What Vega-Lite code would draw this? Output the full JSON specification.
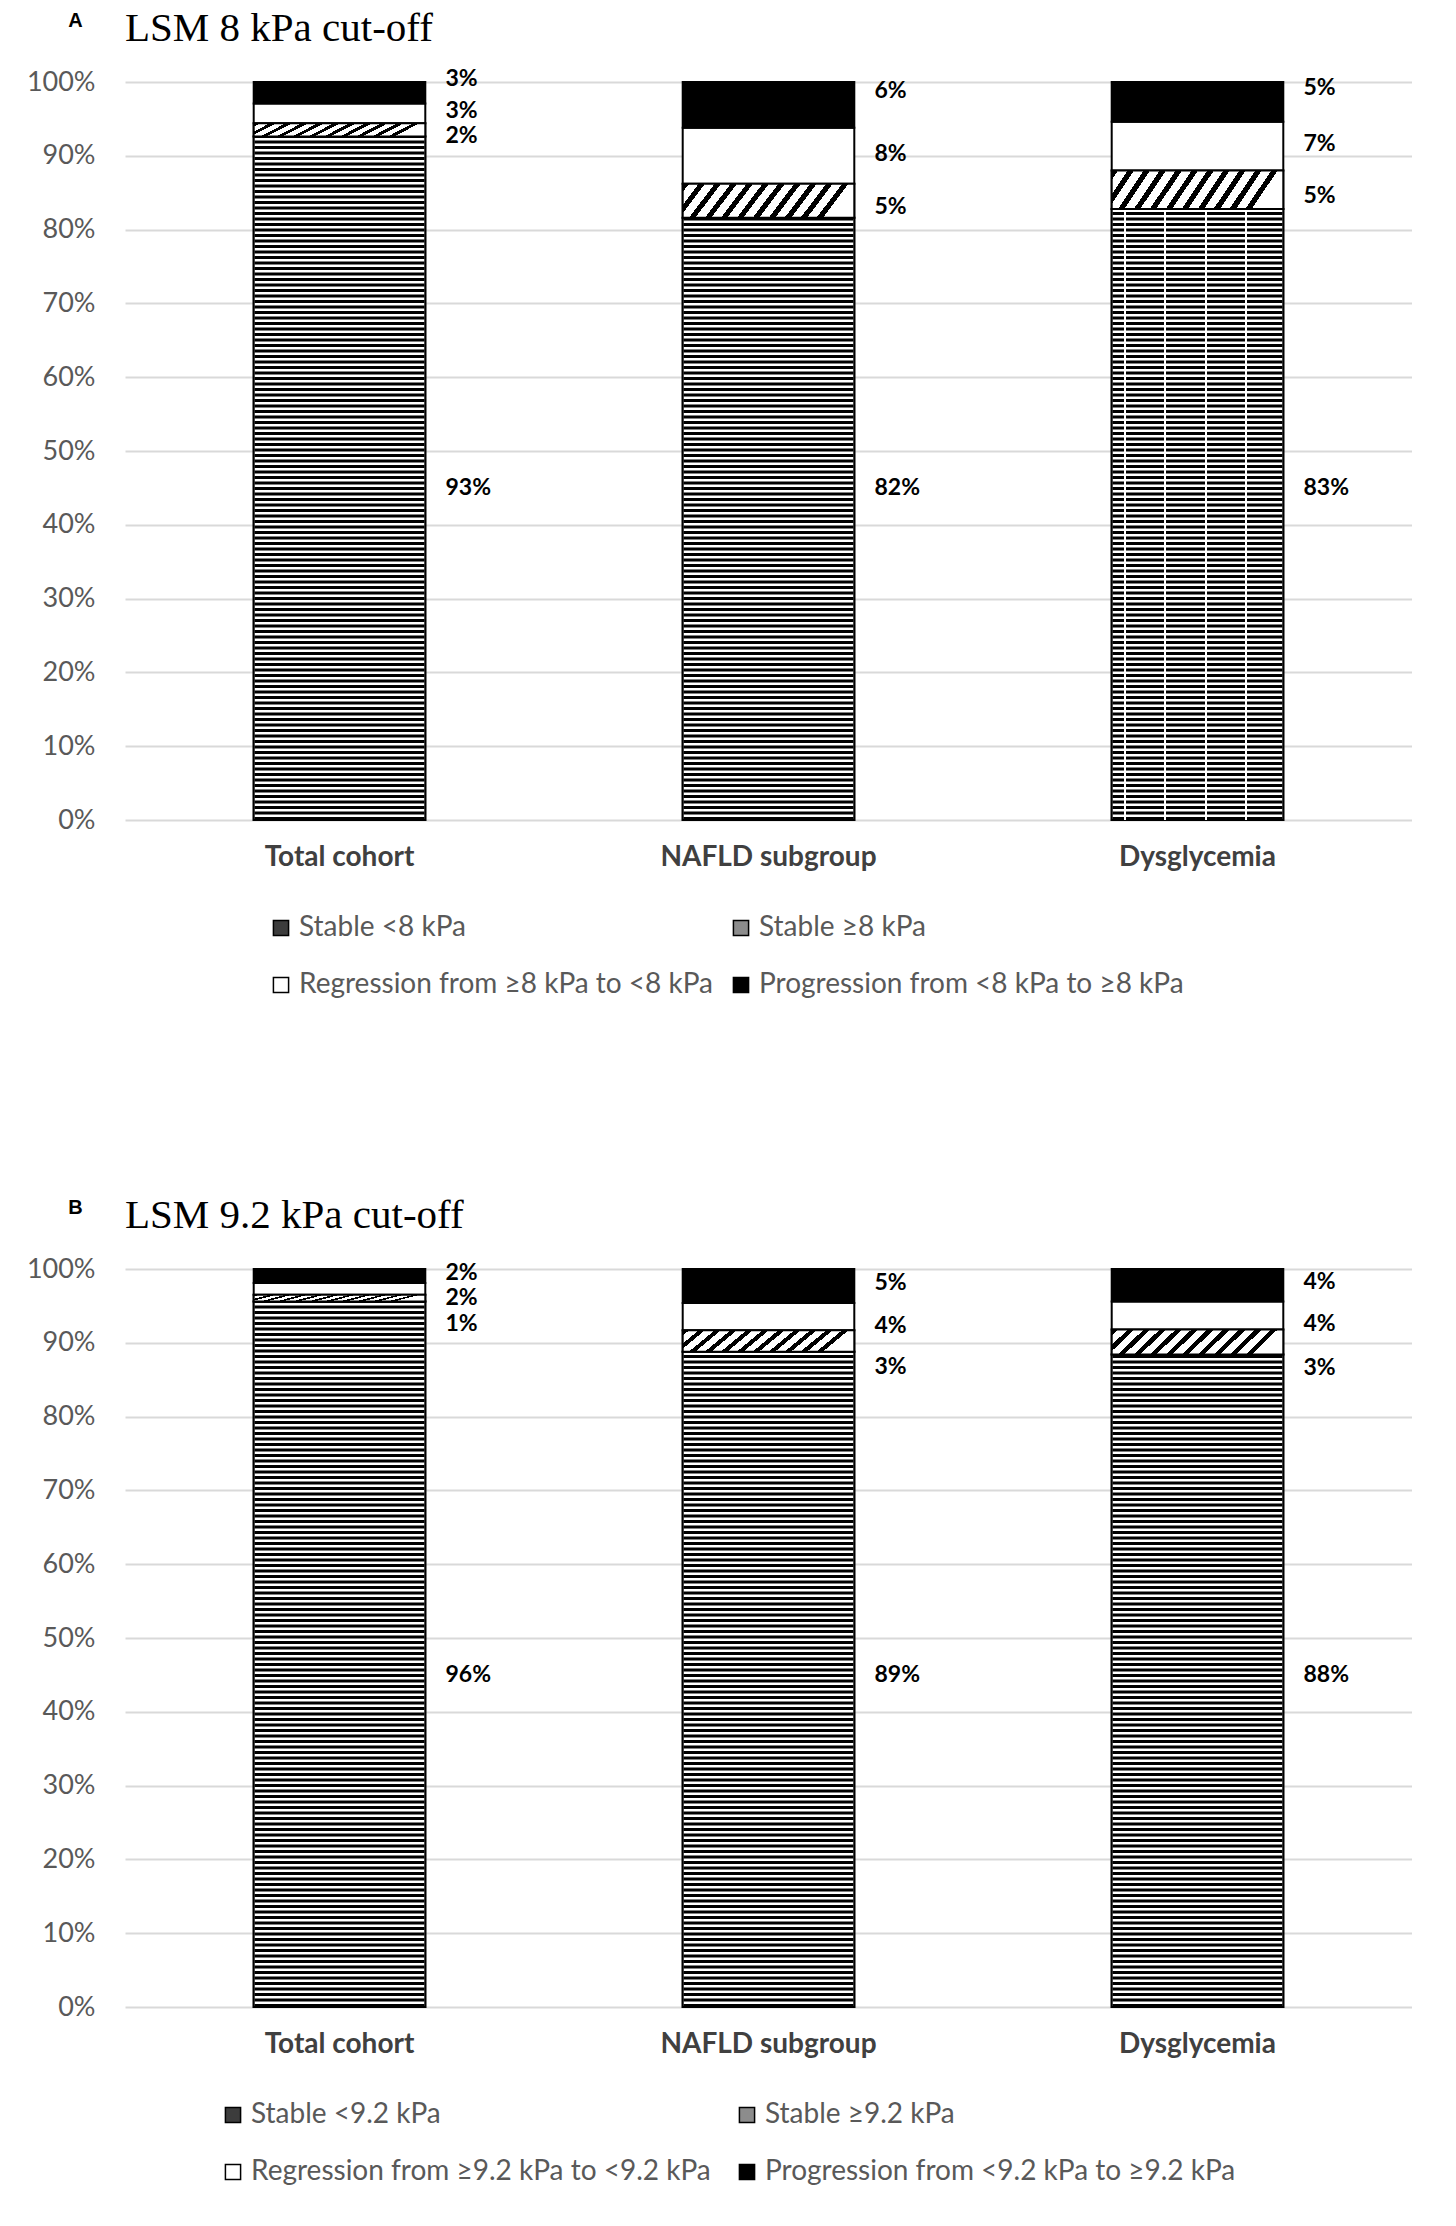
{
  "$schema": "https://vega.github.io/schema/vega-lite/v6.json",
  "padding": {"left": 26, "top": 8, "right": 0, "bottom": 0},
  "background": "white",
  "datasets": {
    "A": [
      {"group": "Total cohort", "series": "Stable <8 kPa", "order": 1, "value": 0.926},
      {"group": "Total cohort", "series": "Stable ≥8 kPa", "order": 2, "value": 0.018},
      {"group": "Total cohort", "series": "Regression from ≥8 kPa to <8 kPa", "order": 3, "value": 0.027},
      {"group": "Total cohort", "series": "Progression from <8 kPa to ≥8 kPa", "order": 4, "value": 0.029},
      {"group": "NAFLD subgroup", "series": "Stable <8 kPa", "order": 1, "value": 0.816},
      {"group": "NAFLD subgroup", "series": "Stable ≥8 kPa", "order": 2, "value": 0.046},
      {"group": "NAFLD subgroup", "series": "Regression from ≥8 kPa to <8 kPa", "order": 3, "value": 0.076},
      {"group": "NAFLD subgroup", "series": "Progression from <8 kPa to ≥8 kPa", "order": 4, "value": 0.062},
      {"group": "Dysglycemia", "series": "Stable <8 kPa", "order": 1, "value": 0.828},
      {"group": "Dysglycemia", "series": "Stable ≥8 kPa", "order": 2, "value": 0.052},
      {"group": "Dysglycemia", "series": "Regression from ≥8 kPa to <8 kPa", "order": 3, "value": 0.066},
      {"group": "Dysglycemia", "series": "Progression from <8 kPa to ≥8 kPa", "order": 4, "value": 0.054}
    ],
    "B": [
      {"group": "Total cohort", "series": "Stable <9.2 kPa", "order": 1, "value": 0.956},
      {"group": "Total cohort", "series": "Stable ≥9.2 kPa", "order": 2, "value": 0.009},
      {"group": "Total cohort", "series": "Regression from ≥9.2 kPa to <9.2 kPa", "order": 3, "value": 0.016},
      {"group": "Total cohort", "series": "Progression from <9.2 kPa to ≥9.2 kPa", "order": 4, "value": 0.019},
      {"group": "NAFLD subgroup", "series": "Stable <9.2 kPa", "order": 1, "value": 0.888},
      {"group": "NAFLD subgroup", "series": "Stable ≥9.2 kPa", "order": 2, "value": 0.029},
      {"group": "NAFLD subgroup", "series": "Regression from ≥9.2 kPa to <9.2 kPa", "order": 3, "value": 0.037},
      {"group": "NAFLD subgroup", "series": "Progression from <9.2 kPa to ≥9.2 kPa", "order": 4, "value": 0.046},
      {"group": "Dysglycemia", "series": "Stable <9.2 kPa", "order": 1, "value": 0.884},
      {"group": "Dysglycemia", "series": "Stable ≥9.2 kPa", "order": 2, "value": 0.034},
      {"group": "Dysglycemia", "series": "Regression from ≥9.2 kPa to <9.2 kPa", "order": 3, "value": 0.038},
      {"group": "Dysglycemia", "series": "Progression from <9.2 kPa to ≥9.2 kPa", "order": 4, "value": 0.044}
    ]
  },
  "vconcat": [
    {
      "width": 1287,
      "height": 738,
      "title": {"text": "LSM 8 kPa cut-off", "font": "Liberation Serif", "fontSize": 41, "fontWeight": "normal", "color": "black", "anchor": "start", "frame": "group", "offset": -40},
      "data": {"name": "A"},
      "transform": [
        {"stack": "value", "groupby": ["group"], "sort": [{"field": "order", "order": "ascending"}], "as": ["v0", "v1"]},
        {"calculate": "(datum.v0 + datum.v1) / 2", "as": "mid"}
      ],
      "encoding": {
        "x": {"field": "group", "type": "nominal", "sort": ["Total cohort", "NAFLD subgroup", "Dysglycemia"], "scale": {"paddingInner": 0.6, "paddingOuter": 0.3}, "axis": {"title": null, "labelAngle": 0, "domain": false, "ticks": false, "grid": false, "labelFont": "Lato", "labelFontSize": 28, "labelFontWeight": "bold", "labelColor": "#404040", "labelPadding": 23, "labelLimit": 0}}
      },
      "layer": [
        {
          "mark": {"type": "bar", "stroke": "black", "strokeWidth": 2},
          "encoding": {
            "y": {"field": "v0", "type": "quantitative", "scale": {"domain": [0, 1]}, "axis": {"values": [0, 0.1, 0.2, 0.3, 0.4, 0.5, 0.6, 0.7, 0.8, 0.9, 1], "format": ".0%", "domain": false, "ticks": false, "grid": true, "gridColor": "#d9d9d9", "gridWidth": 2, "labelFont": "Lato", "labelFontSize": 27, "labelColor": "#595959", "labelPadding": 30, "title": "A", "titleAngle": 0, "titleFont": "Liberation Sans", "titleFontSize": 20, "titleFontWeight": "bold", "titleColor": "black", "titleX": -50, "titleY": -56, "titleAlign": "center", "titleBaseline": "alphabetic"}},
            "y2": {"field": "v1"},
            "color": {"field": "series", "type": "nominal", "scale": {"domain": ["Stable <8 kPa", "Stable ≥8 kPa", "Regression from ≥8 kPa to <8 kPa", "Progression from <8 kPa to ≥8 kPa"], "range": ["#3c3c3c", "#8c8c8c", "#ffffff", "#000000"]}, "legend": {"title": null, "orient": "none", "direction": "horizontal", "legendX": 142, "legendY": 832, "columns": 2, "symbolType": "square", "symbolSize": 230, "symbolStrokeColor": "black", "symbolStrokeWidth": 1.5, "labelFont": "Lato", "labelFontSize": 28, "labelColor": "#595959", "labelLimit": 0, "rowPadding": 29, "columnPadding": 13, "labelOffset": 4}}
          }
        },
        {
          "transform": [{"filter": "datum.order == 1"}],
          "mark": {"type": "bar", "fill": "white", "stroke": "black", "strokeWidth": 2},
          "encoding": {"y": {"field": "v0", "type": "quantitative"}, "y2": {"field": "v1"}}
        },
        {
          "transform": [{"filter": "datum.order == 1"}],
          "mark": {"type": "rule", "stroke": "black", "strokeWidth": 170, "strokeDash": [3, 2.5], "strokeCap": "butt"},
          "encoding": {"y": {"field": "v0", "type": "quantitative"}, "y2": {"field": "v1"}}
        },
        {
          "transform": [{"filter": "datum.order == 1 && datum.group == 'Dysglycemia'"}],
          "mark": {"type": "bar", "stroke": null, "fill": {"gradient": "linear", "x1": 0, "y1": 0, "x2": 1, "y2": 0, "stops": [
            {"offset": 0, "color": "rgba(255,255,255,0)"}, {"offset": 0.071, "color": "rgba(255,255,255,0)"}, {"offset": 0.071, "color": "#fff"}, {"offset": 0.083, "color": "#fff"}, {"offset": 0.083, "color": "rgba(255,255,255,0)"},
            {"offset": 0.306, "color": "rgba(255,255,255,0)"}, {"offset": 0.306, "color": "#fff"}, {"offset": 0.318, "color": "#fff"}, {"offset": 0.318, "color": "rgba(255,255,255,0)"},
            {"offset": 0.542, "color": "rgba(255,255,255,0)"}, {"offset": 0.542, "color": "#fff"}, {"offset": 0.554, "color": "#fff"}, {"offset": 0.554, "color": "rgba(255,255,255,0)"},
            {"offset": 0.779, "color": "rgba(255,255,255,0)"}, {"offset": 0.779, "color": "#fff"}, {"offset": 0.791, "color": "#fff"}, {"offset": 0.791, "color": "rgba(255,255,255,0)"},
            {"offset": 1, "color": "rgba(255,255,255,0)"}
          ]}},
          "encoding": {"y": {"field": "v0", "type": "quantitative"}, "y2": {"field": "v1"}}
        },
        {
          "transform": [{"filter": "datum.order == 2"}],
          "mark": {"type": "bar", "stroke": "black", "strokeWidth": 2, "fill": {"gradient": "linear", "x1": 0, "y1": 0, "x2": 1, "y2": 0.15, "stops": [
            {"offset": 0, "color": "#000"}, {"offset": 0.036, "color": "#000"}, {"offset": 0.036, "color": "#fff"}, {"offset": 0.091, "color": "#fff"},
            {"offset": 0.091, "color": "#000"}, {"offset": 0.127, "color": "#000"}, {"offset": 0.127, "color": "#fff"}, {"offset": 0.182, "color": "#fff"},
            {"offset": 0.182, "color": "#000"}, {"offset": 0.218, "color": "#000"}, {"offset": 0.218, "color": "#fff"}, {"offset": 0.273, "color": "#fff"},
            {"offset": 0.273, "color": "#000"}, {"offset": 0.309, "color": "#000"}, {"offset": 0.309, "color": "#fff"}, {"offset": 0.364, "color": "#fff"},
            {"offset": 0.364, "color": "#000"}, {"offset": 0.4, "color": "#000"}, {"offset": 0.4, "color": "#fff"}, {"offset": 0.455, "color": "#fff"},
            {"offset": 0.455, "color": "#000"}, {"offset": 0.491, "color": "#000"}, {"offset": 0.491, "color": "#fff"}, {"offset": 0.545, "color": "#fff"},
            {"offset": 0.545, "color": "#000"}, {"offset": 0.582, "color": "#000"}, {"offset": 0.582, "color": "#fff"}, {"offset": 0.636, "color": "#fff"},
            {"offset": 0.636, "color": "#000"}, {"offset": 0.673, "color": "#000"}, {"offset": 0.673, "color": "#fff"}, {"offset": 0.727, "color": "#fff"},
            {"offset": 0.727, "color": "#000"}, {"offset": 0.764, "color": "#000"}, {"offset": 0.764, "color": "#fff"}, {"offset": 0.818, "color": "#fff"},
            {"offset": 0.818, "color": "#000"}, {"offset": 0.855, "color": "#000"}, {"offset": 0.855, "color": "#fff"}, {"offset": 0.909, "color": "#fff"},
            {"offset": 0.909, "color": "#000"}, {"offset": 0.945, "color": "#000"}, {"offset": 0.945, "color": "#fff"}, {"offset": 1, "color": "#fff"}
          ]}},
          "encoding": {"y": {"field": "v0", "type": "quantitative"}, "y2": {"field": "v1"}}
        },
        {
          "transform": [{"filter": "datum.order == 1"}],
          "mark": {"type": "text", "align": "left", "baseline": "middle", "dx": 106, "font": "Lato", "fontSize": 23, "fontWeight": "bold", "color": "black"},
          "encoding": {"y": {"datum": 0.45}, "text": {"field": "value", "type": "quantitative", "format": ".0%"}}
        },
        {
          "transform": [{"filter": "datum.order == 2"}],
          "mark": {"type": "text", "align": "left", "baseline": "middle", "dx": 106, "dy": 6, "font": "Lato", "fontSize": 23, "fontWeight": "bold", "color": "black"},
          "encoding": {"y": {"field": "mid", "type": "quantitative"}, "text": {"field": "value", "type": "quantitative", "format": ".0%"}}
        },
        {
          "transform": [{"filter": "datum.order == 3"}],
          "mark": {"type": "text", "align": "left", "baseline": "middle", "dx": 106, "dy": -2, "font": "Lato", "fontSize": 23, "fontWeight": "bold", "color": "black"},
          "encoding": {"y": {"field": "mid", "type": "quantitative"}, "text": {"field": "value", "type": "quantitative", "format": ".0%"}}
        },
        {
          "transform": [{"filter": "datum.order == 4"}],
          "mark": {"type": "text", "align": "left", "baseline": "middle", "dx": 106, "dy": -14, "font": "Lato", "fontSize": 23, "fontWeight": "bold", "color": "black"},
          "encoding": {"y": {"field": "mid", "type": "quantitative"}, "text": {"field": "value", "type": "quantitative", "format": ".0%"}}
        }
      ]
    },
    {
      "width": 1287,
      "height": 738,
      "title": {"text": "LSM 9.2 kPa cut-off", "font": "Liberation Serif", "fontSize": 41, "fontWeight": "normal", "color": "black", "anchor": "start", "frame": "group", "offset": -40},
      "data": {"name": "B"},
      "transform": [
        {"stack": "value", "groupby": ["group"], "sort": [{"field": "order", "order": "ascending"}], "as": ["v0", "v1"]},
        {"calculate": "(datum.v0 + datum.v1) / 2", "as": "mid"}
      ],
      "encoding": {
        "x": {"field": "group", "type": "nominal", "sort": ["Total cohort", "NAFLD subgroup", "Dysglycemia"], "scale": {"paddingInner": 0.6, "paddingOuter": 0.3}, "axis": {"title": null, "labelAngle": 0, "domain": false, "ticks": false, "grid": false, "labelFont": "Lato", "labelFontSize": 28, "labelFontWeight": "bold", "labelColor": "#404040", "labelPadding": 23, "labelLimit": 0}}
      },
      "layer": [
        {
          "mark": {"type": "bar", "stroke": "black", "strokeWidth": 2},
          "encoding": {
            "y": {"field": "v0", "type": "quantitative", "scale": {"domain": [0, 1]}, "axis": {"values": [0, 0.1, 0.2, 0.3, 0.4, 0.5, 0.6, 0.7, 0.8, 0.9, 1], "format": ".0%", "domain": false, "ticks": false, "grid": true, "gridColor": "#d9d9d9", "gridWidth": 2, "labelFont": "Lato", "labelFontSize": 27, "labelColor": "#595959", "labelPadding": 30, "title": "B", "titleAngle": 0, "titleFont": "Liberation Sans", "titleFontSize": 20, "titleFontWeight": "bold", "titleColor": "black", "titleX": -50, "titleY": -56, "titleAlign": "center", "titleBaseline": "alphabetic"}},
            "y2": {"field": "v1"},
            "color": {"field": "series", "type": "nominal", "scale": {"domain": ["Stable <9.2 kPa", "Stable ≥9.2 kPa", "Regression from ≥9.2 kPa to <9.2 kPa", "Progression from <9.2 kPa to ≥9.2 kPa"], "range": ["#3c3c3c", "#8c8c8c", "#ffffff", "#000000"]}, "legend": {"title": null, "orient": "none", "direction": "horizontal", "legendX": 94, "legendY": 832, "columns": 2, "symbolType": "square", "symbolSize": 230, "symbolStrokeColor": "black", "symbolStrokeWidth": 1.5, "labelFont": "Lato", "labelFontSize": 28, "labelColor": "#595959", "labelLimit": 0, "rowPadding": 29, "columnPadding": 22, "labelOffset": 4}}
          }
        },
        {
          "transform": [{"filter": "datum.order == 1"}],
          "mark": {"type": "bar", "fill": "white", "stroke": "black", "strokeWidth": 2},
          "encoding": {"y": {"field": "v0", "type": "quantitative"}, "y2": {"field": "v1"}}
        },
        {
          "transform": [{"filter": "datum.order == 1"}],
          "mark": {"type": "rule", "stroke": "black", "strokeWidth": 170, "strokeDash": [3, 2.5], "strokeCap": "butt"},
          "encoding": {"y": {"field": "v0", "type": "quantitative"}, "y2": {"field": "v1"}}
        },
        {
          "transform": [{"filter": "datum.order == 2"}],
          "mark": {"type": "bar", "stroke": "black", "strokeWidth": 2, "fill": {"gradient": "linear", "x1": 0, "y1": 0, "x2": 1, "y2": 0.15, "stops": [
            {"offset": 0, "color": "#000"}, {"offset": 0.036, "color": "#000"}, {"offset": 0.036, "color": "#fff"}, {"offset": 0.091, "color": "#fff"},
            {"offset": 0.091, "color": "#000"}, {"offset": 0.127, "color": "#000"}, {"offset": 0.127, "color": "#fff"}, {"offset": 0.182, "color": "#fff"},
            {"offset": 0.182, "color": "#000"}, {"offset": 0.218, "color": "#000"}, {"offset": 0.218, "color": "#fff"}, {"offset": 0.273, "color": "#fff"},
            {"offset": 0.273, "color": "#000"}, {"offset": 0.309, "color": "#000"}, {"offset": 0.309, "color": "#fff"}, {"offset": 0.364, "color": "#fff"},
            {"offset": 0.364, "color": "#000"}, {"offset": 0.4, "color": "#000"}, {"offset": 0.4, "color": "#fff"}, {"offset": 0.455, "color": "#fff"},
            {"offset": 0.455, "color": "#000"}, {"offset": 0.491, "color": "#000"}, {"offset": 0.491, "color": "#fff"}, {"offset": 0.545, "color": "#fff"},
            {"offset": 0.545, "color": "#000"}, {"offset": 0.582, "color": "#000"}, {"offset": 0.582, "color": "#fff"}, {"offset": 0.636, "color": "#fff"},
            {"offset": 0.636, "color": "#000"}, {"offset": 0.673, "color": "#000"}, {"offset": 0.673, "color": "#fff"}, {"offset": 0.727, "color": "#fff"},
            {"offset": 0.727, "color": "#000"}, {"offset": 0.764, "color": "#000"}, {"offset": 0.764, "color": "#fff"}, {"offset": 0.818, "color": "#fff"},
            {"offset": 0.818, "color": "#000"}, {"offset": 0.855, "color": "#000"}, {"offset": 0.855, "color": "#fff"}, {"offset": 0.909, "color": "#fff"},
            {"offset": 0.909, "color": "#000"}, {"offset": 0.945, "color": "#000"}, {"offset": 0.945, "color": "#fff"}, {"offset": 1, "color": "#fff"}
          ]}},
          "encoding": {"y": {"field": "v0", "type": "quantitative"}, "y2": {"field": "v1"}}
        },
        {
          "transform": [{"filter": "datum.order == 1"}],
          "mark": {"type": "text", "align": "left", "baseline": "middle", "dx": 106, "font": "Lato", "fontSize": 23, "fontWeight": "bold", "color": "black"},
          "encoding": {"y": {"datum": 0.45}, "text": {"field": "value", "type": "quantitative", "format": ".0%"}}
        },
        {
          "transform": [{"filter": "datum.order == 2"}],
          "mark": {"type": "text", "align": "left", "baseline": "middle", "dx": 106, "dy": 26, "font": "Lato", "fontSize": 23, "fontWeight": "bold", "color": "black"},
          "encoding": {"y": {"field": "mid", "type": "quantitative"}, "text": {"field": "value", "type": "quantitative", "format": ".0%"}}
        },
        {
          "transform": [{"filter": "datum.order == 3"}],
          "mark": {"type": "text", "align": "left", "baseline": "middle", "dx": 106, "dy": 9, "font": "Lato", "fontSize": 23, "fontWeight": "bold", "color": "black"},
          "encoding": {"y": {"field": "mid", "type": "quantitative"}, "text": {"field": "value", "type": "quantitative", "format": ".0%"}}
        },
        {
          "transform": [{"filter": "datum.order == 4"}],
          "mark": {"type": "text", "align": "left", "baseline": "middle", "dx": 106, "dy": -3, "font": "Lato", "fontSize": 23, "fontWeight": "bold", "color": "black"},
          "encoding": {"y": {"field": "mid", "type": "quantitative"}, "text": {"field": "value", "type": "quantitative", "format": ".0%"}}
        }
      ]
    }
  ],
  "spacing": 196,
  "resolve": {"scale": {"color": "independent"}, "legend": {"color": "independent"}},
  "config": {"view": {"stroke": null}}
}
